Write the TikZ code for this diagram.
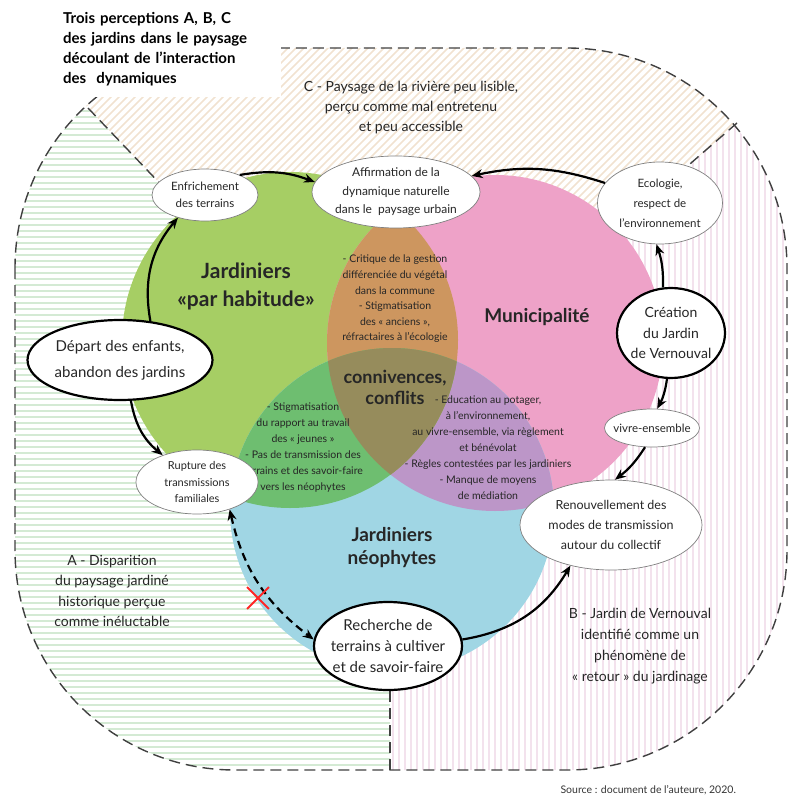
\documentclass[tikz,border=0pt]{standalone}
\usepackage{fontspec}
\setmainfont{Lato}
\usetikzlibrary{shapes.geometric,shapes.misc,arrows.meta,calc}

\definecolor{habgreen}{RGB}{166,206,100}
\definecolor{munipink}{RGB}{238,162,200}
\definecolor{neoblue}{RGB}{160,214,228}
\definecolor{hmorange}{RGB}{205,150,95}
\definecolor{hngreen}{RGB}{110,190,112}
\definecolor{mnpurple}{RGB}{188,150,200}
\definecolor{allolive}{RGB}{150,140,92}
\definecolor{stripeA}{RGB}{212,234,212}
\definecolor{stripeB}{RGB}{243,226,237}
\definecolor{stripeC}{RGB}{241,226,208}

\newcommand{\fs}[2]{\fontsize{#1}{#2}\selectfont}

\tikzstyle{bubble}=[shape=ellipse,draw=black!50,line width=0.7pt,fill=white,align=center,inner xsep=-14pt,inner ysep=-4pt,text=black!85]
\tikzstyle{keybubble}=[bubble,draw=black,line width=2.2pt]
\tikzstyle{flow}=[line width=2.2pt,-{Stealth[length=11pt,width=9pt]}]
\tikzstyle{frontier}=[line width=1.4pt,black!75,dash pattern=on 11pt off 6pt]
\tikzstyle{note}=[align=center,text=black!85]

\begin{document}
\begin{tikzpicture}[x=1pt,y=-1pt]
\useasboundingbox (0,0) rectangle (789,799);
\coordinate (hab) at (290,340);
\coordinate (muni) at (495,343);
\coordinate (neo) at (392,510);
\coordinate (ctr) at (390,425);
\coordinate (cutA) at (88,108);
\coordinate (cutB) at (390,770);
\coordinate (cutC) at (737,123);
% hatched perceptions A, B, C
\begin{scope}
\clip[rounded corners=220pt] (15,48) rectangle (787,770);
\begin{scope}
\clip (ctr) -- ($(ctr)!1.6!(cutA)$) -- (-60,900) -- ($(ctr)!2!(cutB)$) -- cycle;
\foreach \y in {51,57,...,770} \draw[stripeA,line width=1.3pt] (0,\y) -- (400,\y);
\end{scope}
\begin{scope}
\clip (ctr) -- ($(ctr)!2!(cutB)$) -- (900,1115) -- ($(ctr)!1.6!(cutC)$) -- cycle;
\foreach \x in {393,399,...,787} \draw[stripeB,line width=1.6pt] (\x,40) -- (\x,780);
\end{scope}
\begin{scope}
\clip (ctr) -- ($(ctr)!1.6!(cutC)$) -- ($(ctr)!1.6!(cutA)$) -- cycle;
\foreach \k in {-360,-352,...,820} \draw[stripeC,line width=1.6pt] (\k,400) -- (\k+400,0);
\end{scope}
\end{scope}
\draw[frontier,rounded corners=220pt] (15,48) rectangle (787,770);
\draw[frontier] (cutA) -- (ctr);
\draw[frontier] (cutB) -- (ctr);
\draw[frontier] (cutC) -- (ctr);
\node[fill=white,anchor=north west,align=left,text width=212pt,inner xsep=6pt,minimum height=97pt,font=\bfseries\fs{15}{20}] (title) at (57,0) {Trois perceptions A, B, C\\des jardins dans le paysage\\découlant de l'interaction\\des \ dynamiques};
% the three groups
\fill[habgreen] (hab) circle (168pt);
\fill[munipink] (muni) circle (168pt);
\fill[neoblue] (neo) circle (162pt);
\begin{scope}
\clip (muni) circle (168pt);
\fill[mnpurple] (neo) circle (162pt);
\end{scope}
\begin{scope}
\clip (hab) circle (168pt);
\fill[hmorange] (muni) circle (168pt);
\fill[hngreen] (neo) circle (162pt);
\clip (muni) circle (168pt);
\fill[allolive] (neo) circle (162pt);
\end{scope}
\node[note,font=\bfseries\fs{21}{28}] (habLabel) at (246,286) {Jardiniers\\«par habitude»};
\node[note,font=\bfseries\fs{19}{20}] (muniLabel) at (537,317) {Municipalité};
\node[note,font=\bfseries\fs{19}{23}] (neoLabel) at (392,548) {Jardiniers\\néophytes};
\node[note,font=\bfseries\fs{18}{21}] (knot) at (395,387) {connivences,\\conflits};
\node[note,font=\fs{10.5}{15.6}] (lensHM) at (395,299) {- Critique de la gestion\\différenciée du végétal\\dans la commune\\- Stigmatisation\\des «~anciens~»,\\réfractaires à l'écologie};
\node[note,font=\fs{10.5}{16}] (lensHN) at (303,448) {- Stigmatisation\\du rapport au travail\\des «~jeunes~»\\- Pas de transmission des\\terrains et des savoir-faire\\vers les néophytes};
\node[note,font=\fs{10.5}{16}] (lensMN) at (488,448) {- Education au potager,\\à l'environnement,\\au vivre-ensemble, via règlement\\et bénévolat\\- Règles contestées par les jardiniers\\- Manque de moyens\\de médiation};
% perceptions
\node[note,font=\fs{14}{20}] (percC) at (411,108) {C - Paysage de la rivière peu lisible,\\perçu comme mal entretenu\\et peu accessible};
\node[note,font=\fs{14}{20.5}] (percA) at (112,591) {A - Disparition\\du paysage jardiné\\historique perçue\\comme inéluctable};
\node[note,font=\fs{14}{21}] (percB) at (640,646) {B - Jardin de Vernouval\\identifié comme un\\phénomène de\\«~retour~» du jardinage};
% dynamics
\node[bubble,minimum width=106pt,minimum height=52pt,font=\fs{11.5}{17}] (enf) at (205,195) {Enfrichement\\des terrains};
\node[bubble,minimum width=168pt,minimum height=72pt,font=\fs{12}{18.5}] (affirm) at (396,192) {Affirmation de la\\dynamique naturelle\\dans le \ paysage urbain};
\node[bubble,minimum width=125pt,minimum height=82pt,font=\fs{11.5}{20}] (eco) at (660,203) {Ecologie,\\respect de\\l'environnement};
\node[keybubble,minimum width=185pt,minimum height=80pt,font=\fs{15}{26}] (depart) at (120,360) {Départ des enfants,\\abandon des jardins};
\node[keybubble,minimum width=108pt,minimum height=90pt,font=\fs{14}{20.5}] (creation) at (671,333) {Création\\du Jardin\\de Vernouval};
\node[bubble,minimum width=95pt,minimum height=38pt,font=\fs{11.5}{14}] (vivre) at (652,428) {vivre-ensemble};
\node[bubble,minimum width=122pt,minimum height=64pt,font=\fs{11}{16.5}] (rupture) at (197,482) {Rupture des\\transmissions\\familiales};
\node[bubble,minimum width=182pt,minimum height=90pt,font=\fs{12.5}{20}] (renouv) at (611,525) {Renouvellement des\\modes de transmission\\autour du collectif};
\node[keybubble,minimum width=148pt,minimum height=88pt,font=\fs{15}{21}] (recherche) at (388,646) {Recherche de\\terrains à cultiver\\et de savoir-faire};
\draw[flow] (depart.52) to[bend left=25] (enf.220);
\draw[flow] (depart.285) to[bend right=20] (rupture.142);
\draw[flow] (enf.30) to[bend left=15] (affirm.173);
\draw[flow] (eco.160) to[bend right=15] (affirm.12);
\draw[flow] (creation.100) to[bend right=10] (eco.265);
\draw[flow] (creation.265) to[bend left=10] (vivre.75);
\draw[flow] (vivre.250) to[bend left=10] (renouv.85);
\draw[flow] (recherche.5) to[bend right=25] (renouv.225);
\draw[flow,dash pattern=on 8pt off 5pt,{Stealth[length=11pt,width=9pt]}-{Stealth[length=11pt,width=9pt]}] (rupture.320) to[bend right=20] (recherche.175);
\node[cross out,draw=red!85!white,line width=1.8pt,minimum size=20pt] (veto) at (258,598) {};
\node[anchor=west,font=\fs{10.5}{12},text=black!80] (source) at (557,790) {Source : document de l'auteure, 2020.};
\end{tikzpicture}
\end{document}
